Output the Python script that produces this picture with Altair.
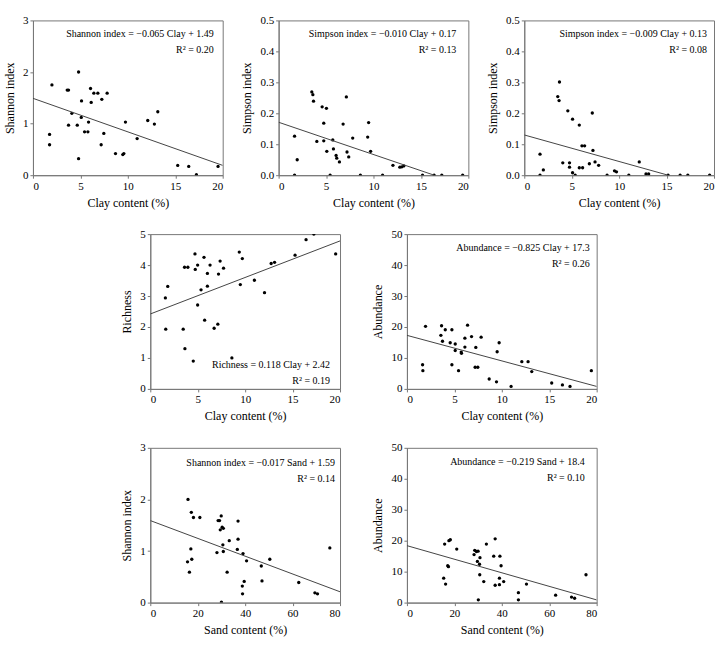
import altair as alt
import pandas as pd

FONT = "Liberation Serif"

# ---------------- data ----------------
# Panel 1: Shannon index vs clay content
p1_x = [2.0, 1.75, 1.75, 3.61, 3.75, 4.81, 4.1, 3.75, 4.67, 4.81, 5.12, 5.09, 6.07, 6.14, 6.42,
        6.84, 7.26, 7.82, 5.44, 5.79, 5.86, 7.19, 7.47, 8.70, 9.47, 9.58, 9.75, 10.98, 12.1,
        12.8, 13.16, 15.26, 16.42, 17.23, 19.51]
p1_y = [1.75, 0.79, 0.59, 1.65, 1.65, 2.0, 1.20, 0.97, 0.97, 0.32, 1.44, 1.12, 1.68, 1.41, 1.59,
        1.59, 1.47, 1.59, 0.84, 0.84, 1.03, 0.59, 0.81, 0.42, 0.40, 0.42, 1.03, 0.71, 1.06,
        0.99, 1.23, 0.19, 0.17, 0.01, 0.17]
p1_fit_x = [0, 20]
p1_fit_y = [1.49, 0.19]

# Panel 2: Simpson index vs clay content
p2_x = [1.68, 1.68, 1.96, 3.50, 3.61, 3.68, 4.03, 4.59, 5.04, 4.76, 4.76, 5.08, 5.43, 5.71, 5.78,
        6.06, 6.13, 6.41, 6.80, 7.14, 7.21, 7.39, 7.81, 8.62, 9.39, 9.49, 9.70, 10.96, 12.05,
        12.78, 12.99, 13.20, 15.17, 16.39, 17.20, 19.40]
p2_y = [0.0, 0.126, 0.050, 0.269, 0.260, 0.239, 0.109, 0.221, 0.216, 0.168, 0.111, 0.077, 0.0,
        0.114, 0.085, 0.064, 0.055, 0.043, 0.165, 0.253, 0.075, 0.059, 0.120, 0.0, 0.123, 0.170,
        0.077, 0.0, 0.032, 0.026, 0.027, 0.030, 0.0, 0.0, 0.0, 0.0]
p2_fit_x = [0, 16.4]
p2_fit_y = [0.171, 0.0]

# Panel 3: Simpson index vs clay content (second set)
p3_x = [1.66, 1.66, 2.01, 3.71, 3.53, 3.67, 4.06, 4.59, 4.77, 4.77, 5.09, 5.09, 5.37, 5.80, 5.80,
        6.15, 6.08, 6.36, 7.17, 7.24, 6.86, 7.46, 7.84, 8.73, 9.51, 9.72, 11.02, 12.12, 12.83,
        13.11, 15.16, 16.43, 17.24, 19.54]
p3_y = [0.0, 0.068, 0.017, 0.301, 0.254, 0.241, 0.040, 0.208, 0.040, 0.026, 0.181, 0.008, 0.0,
        0.162, 0.024, 0.024, 0.095, 0.095, 0.201, 0.080, 0.037, 0.043, 0.032, 0.0, 0.014, 0.011,
        0.0, 0.043, 0.004, 0.004, 0.0, 0.0, 0.0, 0.0]
p3_fit_x = [0, 15.16]
p3_fit_y = [0.130, 0.0]

# Panel 4: Richness vs clay content
p4_x = [1.59, 1.84, 1.63, 3.47, 3.61, 3.96, 3.65, 4.53, 4.71, 4.74, 4.99, 4.99, 5.35, 5.66, 5.73,
        6.02, 6.02, 6.30, 6.73, 7.12, 7.19, 7.36, 7.72, 8.60, 9.38, 9.49, 9.70, 10.97, 12.04,
        12.74, 13.10, 15.26, 16.42, 17.24, 19.54]
p4_y = [2.94, 3.31, 1.93, 1.93, 3.93, 3.93, 1.30, 0.90, 4.36, 3.86, 4.00, 2.71, 3.20, 4.25, 2.22,
        3.73, 3.32, 4.00, 1.96, 2.09, 3.71, 4.13, 3.90, 1.00, 4.42, 3.37, 4.21, 3.51, 3.11,
        4.05, 4.09, 4.32, 4.82, 5.0, 4.36]
p4_fit_x = [0, 20]
p4_fit_y = [2.42, 4.78]

# Panel 5: Abundance vs clay content
p5_x = [1.65, 1.68, 1.96, 3.65, 3.58, 3.75, 4.04, 4.56, 4.74, 4.74, 5.09, 5.09, 5.44, 5.72, 5.75,
        6.11, 6.11, 6.39, 6.81, 7.26, 7.19, 7.47, 7.82, 8.67, 9.44, 9.51, 9.72, 10.98, 12.11,
        12.77, 13.16, 15.26, 16.39, 17.19, 19.44]
p5_y = [7.8, 5.9, 20.2, 20.4, 17.3, 15.4, 19.1, 14.9, 19.1, 7.8, 14.5, 12.4, 5.9, 11.9, 11.5,
        13.5, 16.4, 20.6, 16.9, 13.4, 7.0, 7.0, 16.7, 3.2, 2.3, 12.0, 14.9, 0.8, 8.8, 8.8, 5.6,
        1.9, 1.3, 0.8, 5.9]
p5_fit_x = [0, 20]
p5_fit_y = [17.3, 0.8]

# Panel 6: Shannon index vs sand content
p6_x = [15.9, 17.3, 18.2, 20.9, 17.1, 17.5, 15.7, 16.5, 28.6, 29.2, 29.9, 29.5, 30.3, 30.8, 30.6,
        30.8, 28.1, 32.4, 33.3, 30.0, 37.0, 37.0, 36.7, 39.1, 38.8, 38.9, 39.6, 40.6, 46.8,
        47.1, 50.4, 62.6, 69.4, 70.5, 75.7]
p6_y = [2.0, 1.75, 1.65, 1.65, 1.04, 0.84, 0.79, 0.59, 1.59, 1.59, 1.68, 1.41, 1.46, 1.44, 1.12,
        0.99, 0.97, 0.59, 1.20, 0.01, 1.58, 1.23, 1.03, 0.95, 0.32, 0.17, 0.41, 0.81, 0.71,
        0.42, 0.84, 0.39, 0.19, 0.17, 1.06]
p6_fit_x = [0, 80]
p6_fit_y = [1.59, 0.21]

# Panel 7: Abundance vs sand content
p7_x = [15.5, 16.3, 15.9, 17.2, 17.5, 17.7, 18.3, 21.0, 28.3, 28.6, 29.3, 30.0, 30.8, 29.7, 30.6,
        30.7, 30.1, 32.4, 33.5, 36.6, 37.2, 37.2, 39.2, 39.0, 39.0, 39.7, 40.8, 47.0, 47.0,
        50.4, 62.7, 69.4, 70.7, 75.5]
p7_y = [7.9, 6.0, 18.9, 11.9, 11.6, 20.0, 20.3, 17.3, 15.5, 16.9, 16.5, 16.6, 14.5, 13.3, 12.4,
        9.0, 0.9, 6.8, 18.9, 15.0, 20.6, 5.6, 15.0, 7.9, 5.8, 11.9, 6.8, 3.2, 0.9, 6.0, 2.4,
        1.8, 1.4, 9.0]
p7_fit_x = [0, 80]
p7_fit_y = [18.4, 0.87]

# axis ticks
x_ticks_clay = [0, 5, 10, 15, 20]
x_ticks_sand = [0, 20, 40, 60, 80]
y_ticks_shannon = [0, 1, 2, 3]
y_ticks_simpson = [0.0, 0.1, 0.2, 0.3, 0.4, 0.5]
y_ticks_rich = [0, 1, 2, 3, 4, 5]
y_ticks_abund = [0, 10, 20, 30, 40, 50]

# annotation texts
notes = [
    ["Shannon index = −0.065 Clay + 1.49", "R² = 0.20"],
    ["Simpson index = −0.010 Clay + 0.17", "R² = 0.13"],
    ["Simpson index = −0.009 Clay + 0.13", "R² = 0.08"],
    ["Richness = 0.118 Clay + 2.42", "R² = 0.19"],
    ["Abundance = −0.825 Clay + 17.3", "R² = 0.26"],
    ["Shannon index = −0.017 Sand + 1.59", "R² = 0.14"],
    ["Abundance = −0.219 Sand + 18.4", "R² = 0.10"],
]

W, H = 190, 155


def panel(xs, ys, fx, fy, xticks, yticks, xtitle, ytitle, note, note_x, note_y, yfmt="d"):
    pts = pd.DataFrame({"x": xs, "y": ys})
    fit = pd.DataFrame({"x": fx, "y": fy})
    xsc = alt.Scale(domain=[xticks[0], xticks[-1]], nice=False, zero=False)
    ysc = alt.Scale(domain=[yticks[0], yticks[-1]], nice=False, zero=False)
    xax = alt.Axis(values=xticks, format="d", title=xtitle, labelOverlap=False)
    yax = alt.Axis(values=yticks, format=yfmt, title=ytitle, labelOverlap=False)
    base_pts = alt.Chart(pts).mark_circle(size=11, color="black", opacity=1, clip=True).encode(
        x=alt.X("x:Q", scale=xsc, axis=xax),
        y=alt.Y("y:Q", scale=ysc, axis=yax),
    )
    line = alt.Chart(fit).mark_line(color="#444", strokeWidth=1, clip=True).encode(
        x=alt.X("x:Q", scale=xsc, axis=xax),
        y=alt.Y("y:Q", scale=ysc, axis=yax),
    )
    t1 = alt.Chart(pd.DataFrame({"t": [note[0]]})).mark_text(
        align="right", baseline="middle", font=FONT, fontSize=10, color="black"
    ).encode(text="t:N", x=alt.value(note_x), y=alt.value(note_y))
    t2 = alt.Chart(pd.DataFrame({"t": [note[1]]})).mark_text(
        align="right", baseline="middle", font=FONT, fontSize=10, color="black"
    ).encode(text="t:N", x=alt.value(note_x), y=alt.value(note_y + 16))
    return alt.layer(base_pts, line, t1, t2).properties(width=W, height=H)


xt_top = "Clay content (%)"
xt_bot = "Sand content (%)"

c1 = panel(p1_x, p1_y, p1_fit_x, p1_fit_y, x_ticks_clay, y_ticks_shannon, xt_top, "Shannon index", notes[0], 181, 14)
c2 = panel(p2_x, p2_y, p2_fit_x, p2_fit_y, x_ticks_clay, y_ticks_simpson, xt_top, "Simpson index", notes[1], 178, 14, ".1f")
c3 = panel(p3_x, p3_y, p3_fit_x, p3_fit_y, x_ticks_clay, y_ticks_simpson, xt_top, "Simpson index", notes[2], 183, 14, ".1f")
c4 = panel(p4_x, p4_y, p4_fit_x, p4_fit_y, x_ticks_clay, y_ticks_rich, xt_top, "Richness", notes[3], 180, 131)
c5 = panel(p5_x, p5_y, p5_fit_x, p5_fit_y, x_ticks_clay, y_ticks_abund, xt_top, "Abundance", notes[4], 183, 14)
c6 = panel(p6_x, p6_y, p6_fit_x, p6_fit_y, x_ticks_sand, y_ticks_shannon, xt_bot, "Shannon index", notes[5], 185, 15)
c7 = panel(p7_x, p7_y, p7_fit_x, p7_fit_y, x_ticks_sand, y_ticks_abund, xt_bot, "Abundance", notes[6], 178, 14)

row1 = alt.hconcat(c1, c2, c3, spacing=16)
row2 = alt.hconcat(c4, c5, spacing=30)
row3 = alt.hconcat(c6, c7, spacing=30)

chart = alt.vconcat(row1, row2, row3, spacing=18, center=True).properties(
    padding={"left": 3, "top": 13, "right": 3, "bottom": 3},
    background="white",
).configure_view(
    stroke="#777", strokeWidth=1
).configure_axis(
    grid=False,
    domainColor="#777",
    tickColor="#777",
    tickSize=3,
    labelFont=FONT,
    labelFontSize=11,
    labelColor="black",
    titleFont=FONT,
    titleFontSize=12,
    titleFontWeight="normal",
    titleColor="black",
    labelPadding=2,
    titlePadding=6,
)

chart.save("out.html", embed_options={"renderer": "svg", "actions": False})
